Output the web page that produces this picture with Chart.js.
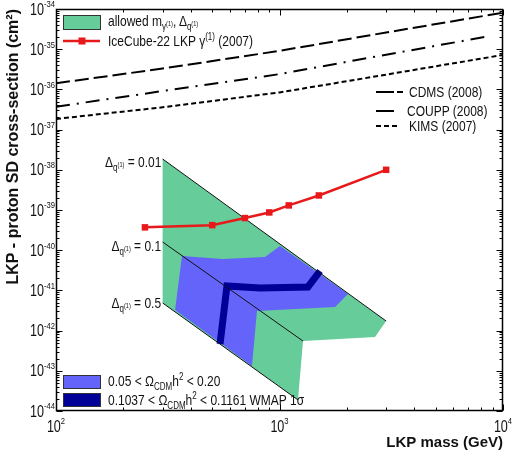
<!DOCTYPE html>
<html lang="en">
<head>
<meta charset="UTF-8">
<title>LKP - proton SD cross-section</title>
<script src="https://cdn.jsdelivr.net/npm/chart.js"></script>
<style>
  body { margin: 0; background: #fff; }
  #wrap { position: relative; width: 512px; height: 456px; font-family: "Liberation Sans", Arial, sans-serif; color: #111; }
  #chart { position: absolute; left: 0; top: 0; }
  .lbl { position: absolute; white-space: nowrap; font-size: 15px; line-height: 16px; transform: scaleX(0.8); transform-origin: left center; }
  .lbl.r { transform-origin: right center; text-align: right; }
  .lbl sub, .lbl sup { font-size: 10px; line-height: 0; }
  .lbl sub sup { font-size: 7px; }
  .box { position: absolute; border: 1px solid #333; box-sizing: border-box; }
  svg { position: absolute; left: 0; top: 0; }
</style>
</head>
<body>
<div id="wrap">
  <canvas id="chart" width="512" height="456"></canvas>

  <!-- legend top left -->
  <div class="box" style="left:63px;top:15px;width:38px;height:15px;background:#66cc99"></div>
  <div class="lbl" style="left:108px;top:13px">allowed m<sub>γ<sup>(1)</sup></sub>, Δ<sub>q<sup>(1)</sup></sub></div>
  <svg width="512" height="456">
    <line x1="63" y1="41" x2="100" y2="41" stroke="#e8191b" stroke-width="2.5"/>
    <rect x="78.5" y="37.5" width="7" height="7" fill="#e8191b"/>
    <line x1="376" y1="92" x2="394" y2="92" stroke="#000" stroke-width="2"/>
    <line x1="397" y1="92" x2="403" y2="92" stroke="#000" stroke-width="2"/>
    <line x1="376" y1="111" x2="394" y2="111" stroke="#000" stroke-width="2"/>
    <line x1="376" y1="126" x2="400" y2="126" stroke="#000" stroke-width="2" stroke-dasharray="5 3"/>
  </svg>
  <div class="lbl" style="left:108px;top:33px">IceCube-22 LKP γ<sup>(1)</sup> (2007)</div>

  <!-- legend right -->
  <div class="lbl" style="left:409px;top:84px">CDMS (2008)</div>
  <div class="lbl" style="left:407px;top:103px">COUPP (2008)</div>
  <div class="lbl" style="left:409px;top:118px">KIMS (2007)</div>

  <!-- delta labels -->
  <div class="lbl r" style="right:351px;top:154px">Δ<sub>q<sup>(1)</sup></sub> = 0.01</div>
  <div class="lbl r" style="right:351px;top:238px">Δ<sub>q<sup>(1)</sup></sub> = 0.1</div>
  <div class="lbl r" style="right:351px;top:295px">Δ<sub>q<sup>(1)</sup></sub> = 0.5</div>

  <!-- legend bottom left -->
  <div class="box" style="left:63px;top:375px;width:38px;height:14px;background:#6464fa"></div>
  <div class="lbl" style="left:108px;top:373px">0.05 &lt; Ω<sub>CDM</sub>h<sup>2</sup> &lt; 0.20</div>
  <div class="box" style="left:63px;top:393px;width:38px;height:14px;background:#000099"></div>
  <div class="lbl" style="left:108px;top:392px">0.1037 &lt; Ω<sub>CDM</sub>h<sup>2</sup> &lt; 0.1161 WMAP 1σ</div>
</div>

<script>
// axis decades
const xExps = [2, 3, 4];
const yExps = [-44, -43, -42, -41, -40, -39, -38, -37, -36, -35, -34];

// IceCube-22 LKP limit
const iceMass = [250, 500, 700, 900, 1100, 1500, 3000];
const iceSigma = [3.7e-40, 4.2e-40, 6.3e-40, 8.7e-40, 1.3e-39, 2.3e-39, 1.0e-38];

// direct detection limits
const cdmsMass = [100, 300, 1000, 3000, 10000];
const cdmsSigma = [1.42e-36, 3.3e-36, 9.1e-36, 2.6e-35, 8.1e-35];
const couppMass = [100, 300, 1000, 3000, 8450];
const couppSigma = [3.7e-37, 9.1e-37, 2.4e-36, 7.3e-36, 2.05e-35];
const kimsMass = [100, 300, 1000, 3000, 10000];
const kimsSigma = [1.84e-37, 3.59e-37, 8.4e-37, 2.33e-36, 7.2e-36];

// allowed region (outline)
const allowedMass = [300, 3000, 2675, 1274, 1210, 300, 300];
const allowedSigma = [1.86e-38, 1.73e-42, 6.9e-43, 5.5e-43, 1.88e-44, 4.86e-42, 1.86e-38];

// 0.05 < Omega h^2 < 0.20 region
const omegaMass = [366, 558, 861, 1005, 2025, 1772, 793, 753, 341, 366];
const omegaSigma = [7.18e-41, 6.04e-41, 6.78e-41, 1.27e-40, 8.13e-42, 3.86e-42, 3.07e-42, 1.32e-43, 3.25e-42, 7.18e-41];

// WMAP 1 sigma band
const wmapMass = [1518, 1341, 818, 582, 542];
const wmapSigma = [3.04e-41, 1.22e-41, 1.15e-41, 1.29e-41, 4.64e-43];

// Delta_q lines
const d001Mass = [300, 3000];
const d001Sigma = [1.86e-38, 1.73e-42];
const d01Mass = [300, 1274];
const d01Sigma = [1.6e-40, 5.5e-43];
const d05Mass = [300, 1210];
const d05Sigma = [4.86e-42, 1.88e-44];

const pts = (ms, ss) => ms.map((m, i) => ({ x: m, y: ss[i] }));

function logTicks(exps) {
    const out = [];
    exps.forEach((e, i) => {
        if (i === exps.length - 1) { out.push({ value: Number('1e' + e) }); return; }
        for (let k = 1; k <= 9; k++) out.push({ value: Number(k + 'e' + e) });
    });
    return out;
}

const isDecade = v => Math.abs(Math.log10(v) - Math.round(Math.log10(v))) < 1e-9;

function drawPow(ctx, e, x, y, mode) {
    const sx = 0.74;
    ctx.font = '17px "Liberation Sans", Arial';
    const wb = ctx.measureText('10').width * sx;
    ctx.font = '9px "Liberation Sans", Arial';
    const ex = String(e);
    const we = ctx.measureText(ex).width * 0.85;
    const start = mode === 'right' ? x - wb - we : x - (wb + we) / 2;
    ctx.save();
    ctx.fillStyle = '#111';
    ctx.textBaseline = 'middle';
    ctx.textAlign = 'left';
    ctx.translate(start, y);
    ctx.save();
    ctx.scale(sx, 1);
    ctx.font = '17px "Liberation Sans", Arial';
    ctx.fillText('10', 0, 0);
    ctx.restore();
    ctx.translate(wb, -5);
    ctx.scale(0.85, 1);
    ctx.font = '9px "Liberation Sans", Arial';
    ctx.fillText(ex, 0, 0);
    ctx.restore();
}

const axisDecor = {
    id: 'axisDecor',
    afterDatasetsDraw(chart) {
        const { ctx, chartArea: a, scales: { x, y } } = chart;
        ctx.save();
        ctx.strokeStyle = '#000';
        ctx.lineWidth = 1;
        const L = Math.round(a.left) + 0.5, R = Math.round(a.right) - 0.5;
        const T = Math.round(a.top) + 0.5, B = Math.round(a.bottom) - 0.5;
        ctx.beginPath();
        x.ticks.forEach(t => {
            const px = Math.round(x.getPixelForValue(t.value)) + 0.5;
            const len = isDecade(t.value) ? 6 : 3;
            ctx.moveTo(px, B); ctx.lineTo(px, B - len);
            ctx.moveTo(px, T); ctx.lineTo(px, T + len);
        });
        y.ticks.forEach(t => {
            const py = Math.round(y.getPixelForValue(t.value)) + 0.5;
            const len = isDecade(t.value) ? 6 : 3;
            ctx.moveTo(L, py); ctx.lineTo(L + len, py);
            ctx.moveTo(R, py); ctx.lineTo(R - len, py);
        });
        ctx.stroke();
        ctx.lineWidth = 1.5;
        ctx.strokeRect(L, T, R - L, B - T);
        ctx.restore();
    },
    afterDraw(chart) {
        const { ctx, chartArea: a, scales: { x, y } } = chart;
        x.ticks.filter(t => isDecade(t.value)).forEach(t => {
            drawPow(ctx, Math.round(Math.log10(t.value)), x.getPixelForValue(t.value), a.bottom + 16, 'center');
        });
        y.ticks.filter(t => isDecade(t.value)).forEach(t => {
            drawPow(ctx, Math.round(Math.log10(t.value)), a.left - 1, y.getPixelForValue(t.value) + 1, 'right');
        });
    }
};

const clear = 'rgba(0,0,0,0)';

new Chart(document.getElementById('chart'), {
    type: 'line',
    data: {
        datasets: [
            { data: pts(allowedMass, allowedSigma), fill: 'shape', backgroundColor: '#66cc99', borderColor: clear, borderWidth: 0, pointRadius: 0, order: 7 },
            { data: pts(omegaMass, omegaSigma), fill: 'shape', backgroundColor: '#6464fa', borderColor: clear, borderWidth: 0, pointRadius: 0, order: 6 },
            { data: pts(wmapMass, wmapSigma), fill: false, borderColor: '#000099', borderWidth: 7, borderCapStyle: 'butt', pointRadius: 0, order: 5 },
            { data: pts(d001Mass, d001Sigma), fill: false, borderColor: '#111', borderWidth: 1, pointRadius: 0, order: 4 },
            { data: pts(d01Mass, d01Sigma), fill: false, borderColor: '#111', borderWidth: 1, pointRadius: 0, order: 4 },
            { data: pts(d05Mass, d05Sigma), fill: false, borderColor: '#111', borderWidth: 1, pointRadius: 0, order: 4 },
            { data: pts(cdmsMass, cdmsSigma), fill: false, borderColor: '#000', borderWidth: 2, borderDash: [14, 5], pointRadius: 0, order: 3 },
            { data: pts(couppMass, couppSigma), fill: false, borderColor: '#000', borderWidth: 2, borderDash: [14, 7, 2, 7], pointRadius: 0, order: 3 },
            { data: pts(kimsMass, kimsSigma), fill: false, borderColor: '#000', borderWidth: 2, borderDash: [5, 3], pointRadius: 0, order: 3 },
            { data: pts(iceMass, iceSigma), fill: false, borderColor: '#e8191b', backgroundColor: '#e8191b', borderWidth: 2.5,
              pointStyle: 'rect', pointRadius: 4.6, pointBackgroundColor: '#e8191b', pointBorderWidth: 0, order: 1 }
        ]
    },
    options: {
        responsive: false,
        animation: false,
        layout: { padding: { left: 0, right: 9, top: 9, bottom: 0 } },
        plugins: { legend: { display: false }, tooltip: { enabled: false } },
        scales: {
            x: {
                type: 'logarithmic',
                min: 100,
                max: 10000,
                grid: { display: false, drawTicks: false },
                border: { display: false },
                ticks: { display: false },
                afterBuildTicks: s => { s.ticks = logTicks(xExps); },
                afterFit: s => { s.height = 45; },
                title: { display: true, text: 'LKP mass (GeV)', align: 'end', color: '#111',
                         font: { family: 'Liberation Sans', size: 15, weight: 'bold' }, padding: { top: 0, bottom: 4 } }
            },
            y: {
                type: 'logarithmic',
                min: 1e-44,
                max: 1e-34,
                grid: { display: false, drawTicks: false },
                border: { display: false },
                ticks: { display: false },
                afterBuildTicks: s => { s.ticks = logTicks(yExps); },
                afterFit: s => { s.width = 56; },
                title: { display: true, text: 'LKP - proton SD cross-section (cm²)', align: 'end', color: '#111',
                         font: { family: 'Liberation Sans', size: 16, weight: 'bold' }, padding: { top: 4, bottom: 0 } }
            }
        }
    },
    plugins: [axisDecor]
});
</script>
</body>
</html>
